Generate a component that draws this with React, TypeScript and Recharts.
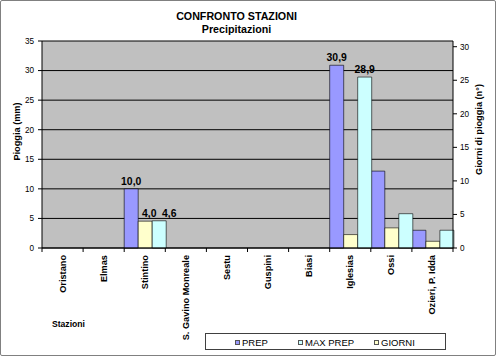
import React from 'react';
import { BarChart, Bar, XAxis, YAxis, CartesianGrid, LabelList } from 'recharts';

const categories = ['Oristano', 'Elmas', 'Stintino', 'S. Gavino Monreale', 'Sestu', 'Guspini', 'Biasi', 'Iglesias', 'Ossi', 'Ozieri, P. Idda'];
const prepValues = [null, null, 10.0, null, null, null, null, 30.9, 13.0, 3.0];
const maxPrepValues = [null, null, 4.6, null, null, null, null, 28.9, 5.8, 3.0];
const giorniValues = [null, null, 4, null, null, null, null, 2, 3, 1];
const leftTicks = [0, 5, 10, 15, 20, 25, 30, 35];
const rightTicks = [0, 5, 10, 15, 20, 25, 30];
const prepLabelled = ['Stintino', 'Iglesias'];
const maxPrepLabelled = ['Stintino', 'Iglesias'];
const giorniLabelled = ['Stintino'];

const data = categories.map((name, i) => ({
  name,
  prep: prepValues[i],
  maxPrep: maxPrepValues[i],
  giorni: giorniValues[i],
}));

const FONT = '"Liberation Sans", Arial, sans-serif';
const C_PREP = '#9999FF';
const C_MAX = '#CCFFFF';
const C_GIORNI = '#FFFFCC';

// small horizontal nudges for crowded labels (style only)
const NUDGE_GIORNI_STINTINO = 4;
const NUDGE_MAX_STINTINO = 10;

const fmt = (v: number) => v.toFixed(1).replace('.', ',');

const labelValue = (key: 'prep' | 'maxPrep' | 'giorni', names: string[]) => (d: any) => {
  const row = d && d.payload ? d.payload : d;
  if (!row || !names.includes(row.name) || row[key] == null) return null;
  return fmt(row[key]);
};

const makeDataLabel = (nudge: number) => (props: any) => {
  const { x, y, width, value, index } = props;
  if (value == null || value === '') return null;
  const dx = index === 0 ? nudge : 0;
  return (
    <text x={x + width / 2 + dx} y={y - 4} textAnchor="middle" fontFamily={FONT} fontSize={10.4} fontWeight="bold" fill="#000">
      {value}
    </text>
  );
};

const CatTick = (props: any) => {
  const { x, y, payload, index, visibleTicksCount } = props;
  const off = payload && payload.offset ? payload.offset : 20.55;
  return (
    <g>
      <line x1={x - off} x2={x - off} y1={y} y2={y + 4} stroke="#000" strokeWidth={1} />
      {index === visibleTicksCount - 1 && (
        <line x1={x + off} x2={x + off} y1={y} y2={y + 4} stroke="#000" strokeWidth={1} />
      )}
      <text
        x={x}
        y={y + 7}
        transform={`rotate(-90, ${x}, ${y + 7})`}
        textAnchor="end"
        dominantBaseline="central"
        fontFamily={FONT}
        fontSize={9.2}
        fontWeight="bold"
        fill="#000"
      >
        {payload.value}
      </text>
    </g>
  );
};

const LeftTitle = (props: any) => {
  const vb = props.viewBox || {};
  const cx = 17;
  const cy = vb.y + vb.height / 2 - 13;
  return (
    <text x={cx} y={cy} transform={`rotate(-90, ${cx}, ${cy})`} textAnchor="middle" dominantBaseline="central" fontFamily={FONT} fontSize={9.2} fontWeight="bold" fill="#000">
      Pioggia (mm)
    </text>
  );
};

const RightTitle = (props: any) => {
  const vb = props.viewBox || {};
  const cx = 478.5;
  const cy = vb.y + vb.height / 2 - 15;
  return (
    <text x={cx} y={cy} transform={`rotate(-90, ${cx}, ${cy})`} textAnchor="middle" dominantBaseline="central" fontFamily={FONT} fontSize={9.2} fontWeight="bold" fill="#000">
      Giorni di pioggia (n°)
    </text>
  );
};

const XTitle = (props: any) => {
  const vb = props.viewBox || {};
  return (
    <text x={vb.x + 10} y={vb.y + 76} dominantBaseline="central" fontFamily={FONT} fontSize={8.6} fontWeight="bold" fill="#000">
      Stazioni
    </text>
  );
};

const legendItems = [
  { label: 'PREP', color: C_PREP },
  { label: 'MAX PREP', color: C_MAX },
  { label: 'GIORNI', color: C_GIORNI },
];

export default function App() {
  return (
    <div style={{ position: 'fixed', left: 0, top: 0, width: 496, height: 356, background: '#fff', fontFamily: FONT }}>
      <div style={{ position: 'absolute', left: 0, top: 0, width: 496, height: 356, boxSizing: 'border-box', border: '1px solid #808080', borderRadius: 2, pointerEvents: 'none', zIndex: 2 }} />
      <div style={{ position: 'absolute', left: 0, top: 10, width: 473, textAlign: 'center', fontWeight: 'bold', fontSize: 10.7, lineHeight: '12.6px', color: '#000' }}>
        <div>CONFRONTO STAZIONI</div>
        <div>Precipitazioni</div>
      </div>
      <BarChart
        width={496}
        height={356}
        data={data}
        margin={{ top: 41, right: 0, bottom: 107, left: 0 }}
        barCategoryGap={0}
        barGap={0}
      >
        <CartesianGrid yAxisId="left" vertical={false} fill="#C0C0C0" stroke="#000" strokeOpacity={1} />
        <XAxis
          dataKey="name"
          height={1}
          interval={0}
          tickSize={0}
          tickMargin={0}
          tickLine={false}
          tick={<CatTick />}
          axisLine={{ stroke: '#000' }}
          label={<XTitle />}
        />
        <YAxis
          yAxisId="left"
          orientation="left"
          width={42}
          domain={[0, 35]}
          ticks={leftTicks}
          interval={0}
          tickSize={4}
          tickMargin={4}
          tick={{ fontSize: 8.2, fill: '#000', fontFamily: FONT }}
          tickLine={{ stroke: '#000' }}
          axisLine={{ stroke: '#000' }}
          label={<LeftTitle />}
        />
        <YAxis
          yAxisId="right"
          orientation="right"
          width={43}
          domain={[0, 30.85]}
          ticks={rightTicks}
          interval={0}
          allowDataOverflow
          tickSize={4}
          tickMargin={3}
          tick={{ fontSize: 8.2, fill: '#000', fontFamily: FONT, textAnchor: 'start' }}
          tickLine={{ stroke: '#000' }}
          axisLine={{ stroke: '#000' }}
          label={<RightTitle />}
        />
        <Bar dataKey="prep" yAxisId="left" fill={C_PREP} stroke="#000" strokeWidth={0.6} isAnimationActive={false}>
          <LabelList dataKey={labelValue('prep', prepLabelled)} content={makeDataLabel(0)} />
        </Bar>
        <Bar dataKey="giorni" yAxisId="right" fill={C_GIORNI} stroke="#000" strokeWidth={0.6} isAnimationActive={false}>
          <LabelList dataKey={labelValue('giorni', giorniLabelled)} content={makeDataLabel(NUDGE_GIORNI_STINTINO)} />
        </Bar>
        <Bar dataKey="maxPrep" yAxisId="left" fill={C_MAX} stroke="#000" strokeWidth={0.6} isAnimationActive={false}>
          <LabelList dataKey={labelValue('maxPrep', maxPrepLabelled)} content={makeDataLabel(NUDGE_MAX_STINTINO)} />
        </Bar>
      </BarChart>
      <div style={{ position: 'absolute', left: 205, top: 333, width: 241, height: 17, boxSizing: 'border-box', border: '1px solid #404040', background: '#fff', fontSize: 9.5, color: '#000' }}>
        {legendItems.map((it, i) => (
          <div key={it.label} style={{ position: 'absolute', left: [29, 92, 168][i], top: 2, display: 'flex', alignItems: 'center', height: 12, whiteSpace: 'nowrap' }}>
            <span style={{ display: 'inline-block', width: 5, height: 5, boxSizing: 'border-box', border: '1px solid #555', background: it.color, marginRight: 2 }} />
            <span>{it.label}</span>
          </div>
        ))}
      </div>
    </div>
  );
}
